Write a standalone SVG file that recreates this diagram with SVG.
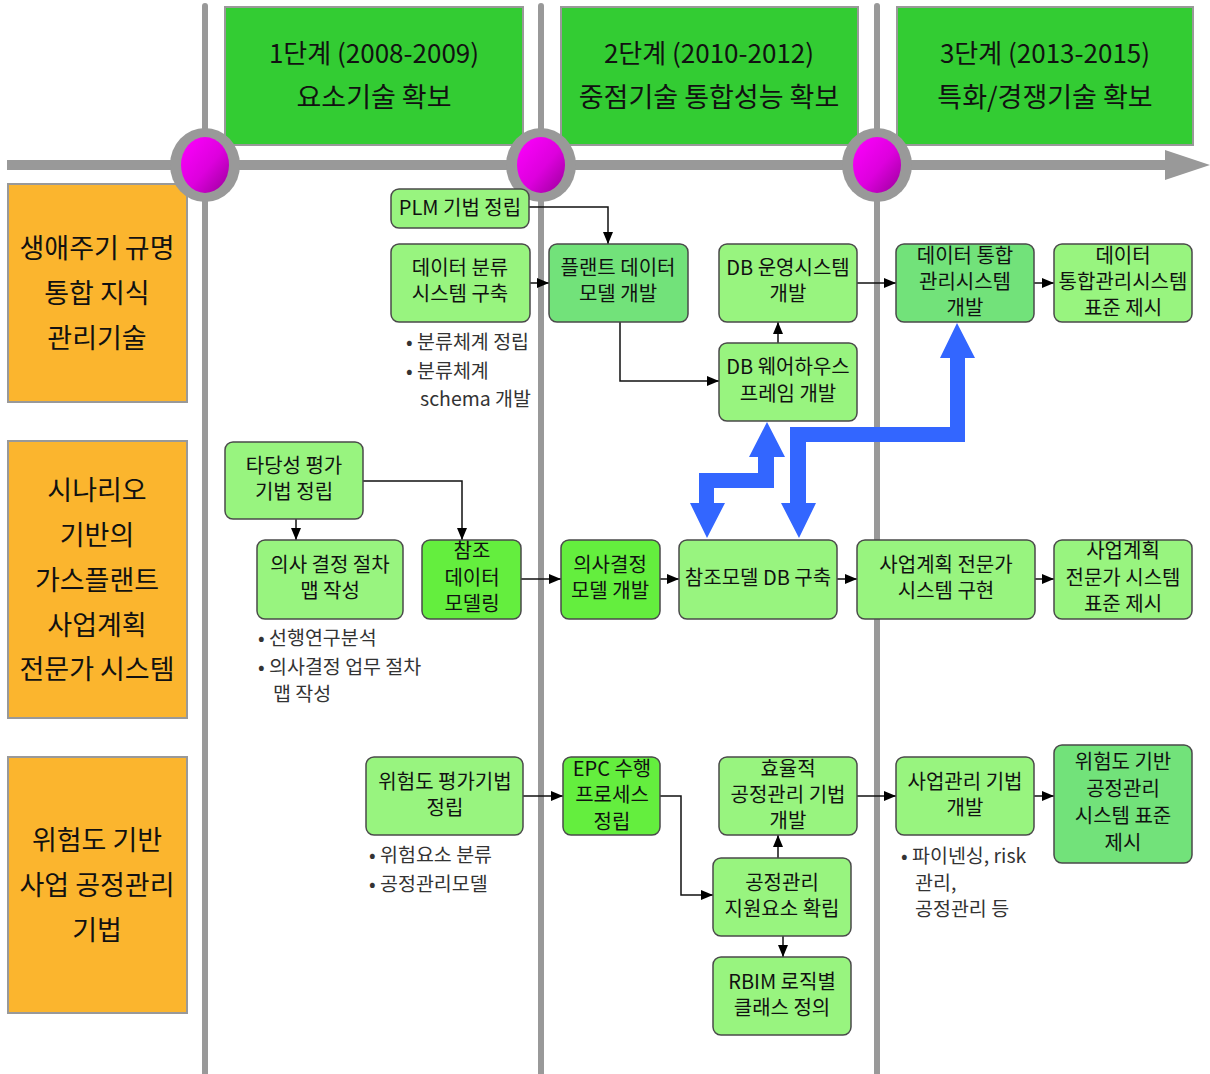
<svg xmlns="http://www.w3.org/2000/svg" width="1210" height="1074" viewBox="0 0 1210 1074">
<defs>
<style>
text{font-family:"Noto Sans CJK KR","Noto Sans",sans-serif;text-anchor:middle;fill:#111}
.hd{font-size:26px}
.hd2{font-size:27px}
.cat{font-size:27px}
.nt{font-size:20px}
.bl{font-size:19.5px;text-anchor:start;fill:#333}
.hbox{fill:#33CC33;stroke:#999;stroke-width:2}
.cbox{fill:#FBB52E;stroke:#999;stroke-width:2}
.n1{fill:#98F47F;stroke:#4a4a4a;stroke-width:1.5}
.n2{fill:#72E27A;stroke:#4a4a4a;stroke-width:1.5}
.n3{fill:#64EE3E;stroke:#4a4a4a;stroke-width:1.5}
.vl{stroke:#999;stroke-width:6;stroke-linecap:round}
.cn{fill:none;stroke:#111;stroke-width:1.5;marker-end:url(#ah)}
.blue{fill:#3366FF}
</style>
<marker id="ah" markerWidth="12" markerHeight="10" refX="12" refY="5" orient="auto" markerUnits="userSpaceOnUse"><path d="M0,0 L12,5 L0,10 z" fill="#000"/></marker>
<linearGradient id="mg" x1="0" y1="0" x2="1" y2="1"><stop offset="0" stop-color="#FF00FF"/><stop offset="0.55" stop-color="#DD00DD"/><stop offset="1" stop-color="#990099"/></linearGradient>
</defs>
<rect width="1210" height="1074" fill="#fff"/>

<g id="timeline">
<line class="vl" x1="205" y1="6" x2="205" y2="1080"/>
<line class="vl" x1="541" y1="6" x2="541" y2="1080"/>
<line class="vl" x1="877" y1="6" x2="877" y2="1080"/>
<rect x="7" y="160" width="1160" height="10" fill="#999"/>
<polygon points="1165,150 1210,165 1165,180" fill="#999"/>
</g>

<g id="phase1"><rect class="hbox" x="225" y="7" width="298" height="138"/><text class="hd" x="374" y="63">1단계 (2008-2009)</text><text class="hd2" x="374" y="107">요소기술 확보</text></g>
<g id="phase2"><rect class="hbox" x="561" y="7" width="297" height="138"/><text class="hd" x="709" y="63">2단계 (2010-2012)</text><text class="hd2" x="709" y="107">중점기술 통합성능 확보</text></g>
<g id="phase3"><rect class="hbox" x="897" y="7" width="296" height="138"/><text class="hd" x="1045" y="63">3단계 (2013-2015)</text><text class="hd2" x="1045" y="107">특화/경쟁기술 확보</text></g>

<g id="catA"><rect class="cbox" x="8" y="184" width="179" height="218"/><text class="cat" x="97" y="258">생애주기 규명</text><text class="cat" x="97" y="303">통합 지식</text><text class="cat" x="97" y="348">관리기술</text></g>
<g id="catB"><rect class="cbox" x="8" y="441" width="179" height="277"/><text class="cat" x="97" y="500">시나리오</text><text class="cat" x="97" y="545">기반의</text><text class="cat" x="97" y="590">가스플랜트</text><text class="cat" x="97" y="635">사업계획</text><text class="cat" x="97" y="679">전문가 시스템</text></g>
<g id="catC"><rect class="cbox" x="8" y="757" width="179" height="256"/><text class="cat" x="97" y="850">위험도 기반</text><text class="cat" x="97" y="895">사업 공정관리</text><text class="cat" x="97" y="940">기법</text></g>

<g id="milestones">
<ellipse cx="205" cy="165" rx="35" ry="37" fill="#999"/><ellipse cx="205" cy="165" rx="24" ry="28" fill="url(#mg)"/>
<ellipse cx="541" cy="165" rx="35" ry="37" fill="#999"/><ellipse cx="541" cy="165" rx="24" ry="28" fill="url(#mg)"/>
<ellipse cx="877" cy="165" rx="35" ry="37" fill="#999"/><ellipse cx="877" cy="165" rx="24" ry="28" fill="url(#mg)"/>
</g>

<g id="connectors">
<path class="cn" d="M529,207 H608 V244"/>
<path class="cn" d="M530,283 H549"/>
<path class="cn" d="M620,322 V381 H719"/>
<path class="cn" d="M778,343 V322"/>
<path class="cn" d="M857,283 H896"/>
<path class="cn" d="M1034,283 H1054"/>
<path class="cn" d="M296,519 V540"/>
<path class="cn" d="M363,481 H462 V540"/>
<path class="cn" d="M521,579 H561"/>
<path class="cn" d="M660,579 H679"/>
<path class="cn" d="M837,579 H857"/>
<path class="cn" d="M1035,579 H1054"/>
<path class="cn" d="M523,796 H563"/>
<path class="cn" d="M660,796 H681 V895 H713"/>
<path class="cn" d="M778,858 V835"/>
<path class="cn" d="M783,936 V957"/>
<path class="cn" d="M857,796 H896"/>
<path class="cn" d="M1034,796 H1054"/>
<polygon class="blue" points="767,422 785,457 774,457 774,488 714,488 714,503 725,503 707,538 690,503 699,503 699,473 758,473 758,457 749,457"/>
<polygon class="blue" points="957,323 975,358 965,358 965,442 806,442 806,503 816,503 799,538 781,503 790,503 790,427 950,427 950,358 940,358"/>
</g>

<g id="n_plm"><rect class="n1" x="391" y="189" width="138" height="39" rx="8"/><text class="nt" x="460" y="215">PLM 기법 정립</text></g>
<g id="n_dataclass"><rect class="n1" x="391" y="244" width="139" height="78" rx="8"/><text class="nt" x="460" y="275">데이터 분류</text><text class="nt" x="460" y="301">시스템 구축</text></g>
<g id="n_plantmodel"><rect class="n2" x="549" y="244" width="139" height="78" rx="8"/><text class="nt" x="618" y="275">플랜트 데이터</text><text class="nt" x="618" y="301">모델 개발</text></g>
<g id="n_dbop"><rect class="n1" x="719" y="244" width="138" height="78" rx="8"/><text class="nt" x="788" y="275">DB 운영시스템</text><text class="nt" x="788" y="301">개발</text></g>
<g id="n_dbwh"><rect class="n1" x="719" y="343" width="138" height="78" rx="8"/><text class="nt" x="788" y="374">DB 웨어하우스</text><text class="nt" x="788" y="401">프레임 개발</text></g>
<g id="n_dataint"><rect class="n2" x="896" y="244" width="138" height="78" rx="8"/><text class="nt" x="965" y="263">데이터 통합</text><text class="nt" x="965" y="289">관리시스템</text><text class="nt" x="965" y="315">개발</text></g>
<g id="n_datastd"><rect class="n1" x="1054" y="244" width="138" height="78" rx="8"/><text class="nt" x="1123" y="263">데이터</text><text class="nt" x="1123" y="289">통합관리시스템</text><text class="nt" x="1123" y="315">표준 제시</text></g>

<g id="b_row1"><text class="bl" x="406" y="349">• 분류체계 정립</text><text class="bl" x="406" y="378">• 분류체계</text><text class="bl" x="420" y="406">schema 개발</text></g>

<g id="n_valid"><rect class="n1" x="225" y="442" width="138" height="77" rx="8"/><text class="nt" x="294" y="473">타당성 평가</text><text class="nt" x="294" y="499">기법 정립</text></g>
<g id="n_procmap"><rect class="n1" x="257" y="540" width="146" height="79" rx="8"/><text class="nt" x="330" y="572">의사 결정 절차</text><text class="nt" x="330" y="598">맵 작성</text></g>
<g id="n_refdata"><rect class="n3" x="422" y="540" width="99" height="79" rx="8"/><text class="nt" x="472" y="558">참조</text><text class="nt" x="472" y="585">데이터</text><text class="nt" x="472" y="611">모델링</text></g>
<g id="n_dmodel"><rect class="n3" x="561" y="540" width="99" height="79" rx="8"/><text class="nt" x="610" y="572">의사결정</text><text class="nt" x="610" y="598">모델 개발</text></g>
<g id="n_refdb"><rect class="n1" x="679" y="540" width="158" height="79" rx="8"/><text class="nt" x="758" y="585">참조모델 DB 구축</text></g>
<g id="n_bizexp"><rect class="n1" x="857" y="540" width="178" height="79" rx="8"/><text class="nt" x="946" y="572">사업계획 전문가</text><text class="nt" x="946" y="598">시스템 구현</text></g>
<g id="n_bizstd"><rect class="n1" x="1054" y="540" width="138" height="79" rx="8"/><text class="nt" x="1123" y="558">사업계획</text><text class="nt" x="1123" y="585">전문가 시스템</text><text class="nt" x="1123" y="611">표준 제시</text></g>

<g id="b_row2"><text class="bl" x="258" y="645">• 선행연구분석</text><text class="bl" x="258" y="674">• 의사결정 업무 절차</text><text class="bl" x="273" y="701">맵 작성</text></g>

<g id="n_risk"><rect class="n1" x="366" y="757" width="157" height="78" rx="8"/><text class="nt" x="445" y="789">위험도 평가기법</text><text class="nt" x="445" y="815">정립</text></g>
<g id="n_epc"><rect class="n3" x="563" y="757" width="97" height="78" rx="8"/><text class="nt" x="612" y="776">EPC 수행</text><text class="nt" x="612" y="802">프로세스</text><text class="nt" x="612" y="829">정립</text></g>
<g id="n_eff"><rect class="n1" x="719" y="757" width="138" height="78" rx="8"/><text class="nt" x="788" y="776">효율적</text><text class="nt" x="788" y="802">공정관리 기법</text><text class="nt" x="788" y="828">개발</text></g>
<g id="n_support"><rect class="n1" x="713" y="858" width="138" height="78" rx="8"/><text class="nt" x="782" y="890">공정관리</text><text class="nt" x="782" y="916">지원요소 확립</text></g>
<g id="n_rbim"><rect class="n1" x="713" y="957" width="138" height="78" rx="8"/><text class="nt" x="782" y="989">RBIM 로직별</text><text class="nt" x="782" y="1015">클래스 정의</text></g>
<g id="n_bizmgmt"><rect class="n1" x="896" y="757" width="138" height="78" rx="8"/><text class="nt" x="965" y="789">사업관리 기법</text><text class="nt" x="965" y="815">개발</text></g>
<g id="n_riskstd"><rect class="n2" x="1054" y="745" width="138" height="118" rx="8"/><text class="nt" x="1123" y="769">위험도 기반</text><text class="nt" x="1123" y="796">공정관리</text><text class="nt" x="1123" y="823">시스템 표준</text><text class="nt" x="1123" y="850">제시</text></g>

<g id="b_row3"><text class="bl" x="369" y="862">• 위험요소 분류</text><text class="bl" x="369" y="891">• 공정관리모델</text><text class="bl" x="901" y="863">• 파이넨싱, risk</text><text class="bl" x="915" y="890">관리,</text><text class="bl" x="915" y="916">공정관리 등</text></g>
</svg>
